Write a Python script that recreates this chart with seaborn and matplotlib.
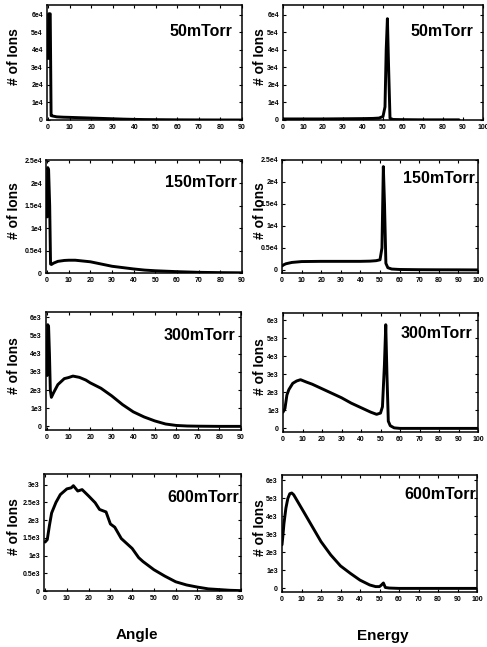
import matplotlib
matplotlib.use("Agg")
import matplotlib.pyplot as plt
import seaborn as sns

# angle / energy distributions of ions at 4 pressures
pressures = ["50mTorr", "150mTorr", "300mTorr", "600mTorr"]

ang50_x = [0, 0.3, 0.6, 1.0, 1.4, 2, 4, 7, 10, 15, 20, 25, 30, 35, 40, 45, 50, 60, 70, 80, 90]
ang50_y = [35000, 60500, 60000, 60500, 2500, 2300, 1800, 1600, 1500, 1300, 1100, 900, 700, 500, 350, 250, 200, 100, 50, 20, 0]

en50_x = [0, 5, 10, 20, 30, 40, 45, 48, 50, 51, 51.6, 52.2, 52.8, 53.5, 55, 60, 70, 80, 88]
en50_y = [600, 600, 600, 600, 700, 800, 900, 1100, 2000, 7500, 40000, 57700, 30000, 1000, 300, 200, 100, 100, 100]

ang150_x = [0, 0.3, 0.7, 1.2, 1.6, 2, 3, 5, 8, 10, 13, 16, 20, 25, 30, 35, 40, 45, 50, 60, 70, 80, 90]
ang150_y = [12500, 23500, 23000, 15000, 2000, 1900, 2200, 2600, 2800, 2850, 2850, 2700, 2500, 2000, 1500, 1200, 900, 650, 500, 300, 150, 80, 40]

en150_x = [0, 1, 2, 5, 10, 20, 30, 40, 45, 48, 50, 51, 51.7, 52.3, 53, 54, 56, 60, 70, 80, 90, 100]
en150_y = [900, 1200, 1400, 1700, 1900, 1950, 1950, 1950, 2000, 2100, 2300, 5000, 23500, 15000, 1500, 500, 200, 100, 50, 30, 20, 0]

ang300_x = [0, 0.3, 0.7, 1.1, 1.5, 2, 3, 5, 8, 10, 12, 15, 18, 20, 25, 30, 35, 40, 45, 50, 55, 60, 65, 70, 80, 90]
ang300_y = [2800, 5600, 5500, 4000, 2000, 1600, 1850, 2300, 2630, 2690, 2770, 2700, 2550, 2400, 2100, 1680, 1200, 800, 520, 300, 130, 50, 20, 10, 0, 0]

en300_x = [0, 1, 2, 3, 5, 7, 9, 12, 15, 20, 25, 30, 35, 40, 45, 48, 50, 51, 52, 52.7, 53.3, 54, 55, 57, 60, 70, 80, 90, 100]
en300_y = [900, 1100, 1850, 2150, 2500, 2630, 2700, 2570, 2450, 2200, 1950, 1700, 1400, 1150, 900, 780, 850, 1200, 3500, 5750, 3000, 400, 150, 30, 0, 0, 0, 0, 0]

ang600_x = [0, 1, 2, 3, 5, 7, 10, 12, 13, 15, 17, 20, 23, 25, 28, 30, 32, 35, 40, 43, 45, 50, 55, 60, 65, 70, 75, 80, 85, 90]
ang600_y = [1380, 1450, 1850, 2200, 2500, 2720, 2880, 2910, 2970, 2820, 2860, 2680, 2490, 2300, 2230, 1890, 1800, 1480, 1200, 940, 830, 600, 420, 260, 170, 110, 60, 40, 20, 10]

en600_x = [0, 0.5, 1, 2, 3, 4, 5, 6, 8, 10, 12, 15, 20, 25, 30, 35, 40, 45, 48, 50, 51, 52, 53, 55, 60, 70, 80, 90, 100]
en600_y = [2420, 2970, 3600, 4460, 5000, 5260, 5300, 5200, 4830, 4460, 4090, 3530, 2600, 1860, 1250, 840, 460, 190, 100, 100, 190, 300, 50, 20, 0, 0, 0, 0, 0]

# y ticks per row
yt_row1 = [0, 10000, 20000, 30000, 40000, 50000, 60000]
yl_row1 = ["0", "1e4", "2e4", "3e4", "4e4", "5e4", "6e4"]
yt_row2 = [0, 5000, 10000, 15000, 20000, 25000]
yl_row2 = ["0", "0.5e4", "1e4", "1.5e4", "2e4", "2.5e4"]
yt_e3 = [0, 1000, 2000, 3000, 4000, 5000, 6000]
yl_e3 = ["0", "1e3", "2e3", "3e3", "4e3", "5e3", "6e3"]
yt_half = [0, 500, 1000, 1500, 2000, 2500, 3000]
yl_half = ["0", "0.5e3", "1e3", "1.5e3", "2e3", "2.5e3", "3e3"]

ang_ticks = list(range(0, 100, 10))
en_ticks = list(range(0, 110, 10))

sns.set_style("ticks")
plt.rcParams["font.family"] = ["Liberation Sans", "DejaVu Sans"]
plt.rcParams["text.color"] = "black"
plt.rcParams["xtick.color"] = "black"
plt.rcParams["ytick.color"] = "black"

W, H = 487, 647
fig = plt.figure(figsize=(W / 100, H / 100), dpi=100)

# (left, top, right, bottom) in pixels, text x/y in axes fraction
panels = [
    ((47, 5, 242, 120), ang50_x, ang50_y, yt_row1, yl_row1, (0, 65500), "a", 0.95, 0.77),
    ((283, 5, 483, 120), en50_x, en50_y, yt_row1, yl_row1, (0, 65500), "e", 0.95, 0.77),
    ((46, 160, 242, 273), ang150_x, ang150_y, yt_row2, yl_row2, (0, 25200), "a", 0.975, 0.80),
    ((282, 160, 478, 273), en150_x, en150_y, yt_row2, yl_row2, (-700, 25000), "e", 0.985, 0.84),
    ((46, 312, 241, 430), ang300_x, ang300_y, yt_e3, yl_e3, (-200, 6300), "a", 0.97, 0.80),
    ((283, 313, 478, 432), en300_x, en300_y, yt_e3, yl_e3, (-200, 6400), "e", 0.97, 0.83),
    ((44, 474, 241, 591), ang600_x, ang600_y, yt_half, yl_half, (0, 3300), "a", 0.99, 0.80),
    ((282, 475, 477, 592), en600_x, en600_y, yt_e3, yl_e3, (-200, 6300), "e", 0.995, 0.83),
]

for i, (box, xs, ys, yt, yl, ylim, kind, tx, ty) in enumerate(panels):
    l, t, r, b = box
    ax = fig.add_axes([l / W, 1 - b / H, (r - l) / W, (b - t) / H])
    sns.lineplot(x=xs, y=ys, ax=ax, color="black", linewidth=2.1, sort=False)
    if kind == "a":
        ax.set_xlim(-0.5, 90)
        ax.set_xticks(ang_ticks)
        ax.set_xticklabels([str(v) for v in ang_ticks])
    else:
        ax.set_xlim(0, 100)
        ax.set_xticks(en_ticks)
        ax.set_xticklabels([str(v) for v in en_ticks])
    ax.set_ylim(*ylim)
    ax.set_yticks(yt)
    ax.set_yticklabels(yl)
    ax.tick_params(direction="in", length=2.5, width=0.8, top=True, right=True,
                   labelsize=5, pad=3)
    for lab in ax.get_xticklabels() + ax.get_yticklabels():
        lab.set_fontweight("bold")
    for sp in ax.spines.values():
        sp.set_visible(True)
        sp.set_linewidth(1.1)
        sp.set_color("black")
    ax.text(tx, ty, pressures[i // 2], transform=ax.transAxes, ha="right",
            va="center", fontsize=11.5, fontweight="bold")
    lab_x = 14 if kind == "a" else 260
    ax.text(-(l - lab_x) / (r - l), 0.55, "# of Ions", transform=ax.transAxes,
            rotation=90, ha="center", va="center", fontsize=10, fontweight="bold")

fig.text(137 / W, 1 - 635 / H, "Angle", ha="center", va="center", fontsize=11, fontweight="bold")
fig.text(383 / W, 1 - 636 / H, "Energy", ha="center", va="center", fontsize=11, fontweight="bold")

fig.savefig("out.png", dpi=100, facecolor="white")
